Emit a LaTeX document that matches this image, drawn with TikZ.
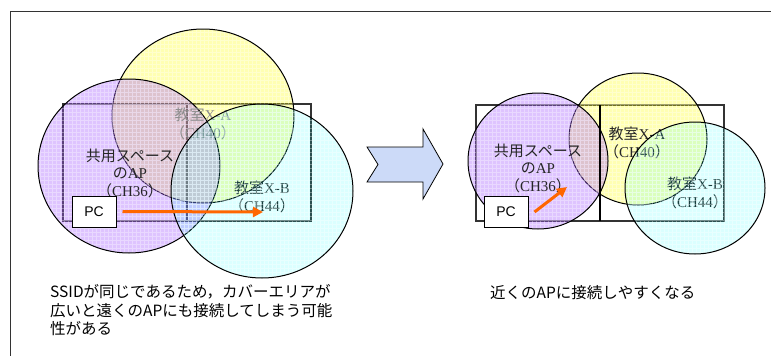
\documentclass[tikz,border=0pt]{standalone}
\usepackage{fontspec}
\setmainfont{Liberation Serif}
\newfontfamily\cjk{Noto Sans CJK JP}
\newfontfamily\arialf{Liberation Sans}
\usetikzlibrary{arrows.meta}
\definecolor{apPurple}{HTML}{A35BFF}
\definecolor{apYellow}{HTML}{FFFF00}
\definecolor{apCyan}{HTML}{00FFFF}
\definecolor{bigArrow}{HTML}{CCDAF8}
\definecolor{pcArrow}{HTML}{FF6600}
\newcommand\apzone[6]{%
  \begin{scope}
    \clip (#1,#2) ellipse [x radius=#3, y radius=#4];
    \fill[fill=#5, fill opacity=#6] (#1-#3,#2-#4) rectangle (#1+#3,#2+#4);
    \draw[white, draw opacity=0.35, line width=0.4pt, xstep=4pt, ystep=4pt] (#1-#3,#2-#4) grid (#1+#3,#2+#4);
  \end{scope}
  \draw[zoneline] (#1,#2) ellipse [x radius=#3, y radius=#4];
}
\newcommand\jp[1]{{\cjk #1}}
\begin{document}
\begin{tikzpicture}[x=1pt,y=-1pt,
  zoneline/.style={draw=black, line width=1pt},
  roomline/.style={draw=black!80, line width=1.2pt},
  aplabel/.style={align=center, inner sep=0pt, font=\fontsize{15}{17.5}\selectfont},
  pcbox/.style={draw=black, line width=1pt, fill=white, minimum width=44pt, minimum height=31pt, inner sep=0pt, font=\arialf\fontsize{14}{16}\selectfont},
  pcarrow/.style={draw=pcArrow, line width=3pt, -{Triangle[length=10pt,width=10pt]}},
  note/.style={align=left, inner sep=0pt, anchor=west, font=\cjk\fontsize{15.5}{18.5}\selectfont}]
\useasboundingbox (0,0) rectangle (771,356);
% outer frame
\draw[draw=black!80, line width=1pt] (775,11) -- (10,11) -- (10,360);

% ---------------- left figure ----------------
\draw[roomline] (63,104) rectangle (187,221);
\draw[roomline] (187,104) rectangle (311,221);
\apzone{203}{116}{91}{87}{apYellow}{0.3}
\apzone{129}{166}{91}{87}{apPurple}{0.36}
\node[aplabel, text=black!85] (shareL) at (130,173) {\jp{共用スペース}\\\jp{の}AP\\\jp{（}CH36\jp{）}};
\node[aplabel, text=black!45] (roomAL) at (203,124) {\jp{教室}X-A\\\jp{（}CH40\jp{）}};
\node[aplabel, text=black!88] (roomBL) at (262,197) {\jp{教室}X-B\\\jp{（}CH44\jp{）}};
\apzone{262}{191}{91}{87}{apCyan}{0.14}
\node[pcbox] (pcL) at (94,211.5) {PC};
\coordinate (tL) at (263,212);
\draw[pcarrow] ([xshift=6pt]pcL.east) -- (tL);

% ---------------- big arrow ----------------
\draw[fill=bigArrow, draw=black, line width=0.8pt]
  (367,147) -- (423,147) -- (423,129) -- (443,164) -- (423,199) -- (423,182) -- (367,182) -- (378,164.5) -- cycle;

% ---------------- right figure ----------------
\draw[roomline] (476,105) rectangle (600,221);
\draw[roomline] (600,105) rectangle (724,221);
\apzone{638}{139}{69}{66}{apYellow}{0.3}
\apzone{538}{161}{70}{68}{apPurple}{0.36}
\draw[draw=black, line width=1.8pt] (600,105) -- (600,221);
\node[aplabel, text=black!85] (shareR) at (538,168) {\jp{共用スペース}\\\jp{の}AP\\\jp{（}CH36\jp{）}};
\node[aplabel, text=black!85] (roomAR) at (637,143) {\jp{教室}X-A\\\jp{（}CH40\jp{）}};
\node[aplabel, text=black!88] (roomBR) at (695,193) {\jp{教室}X-B\\\jp{（}CH44\jp{）}};
\apzone{695}{188}{70}{66}{apCyan}{0.14}
\node[pcbox] (pcR) at (506,212) {PC};
\coordinate (tR) at (567,187);
\draw[pcarrow] ([xshift=6pt]pcR.east) -- (tR);

% ---------------- notes ----------------
\node[note] (noteL) at (50,310.5) {SSIDが同じであるため，カバーエリアが\\広いと遠くのAPにも接続してしまう可能\\性がある};
\node[note] (noteR) at (490,293) {近くのAPに接続しやすくなる};
\end{tikzpicture}
\end{document}
